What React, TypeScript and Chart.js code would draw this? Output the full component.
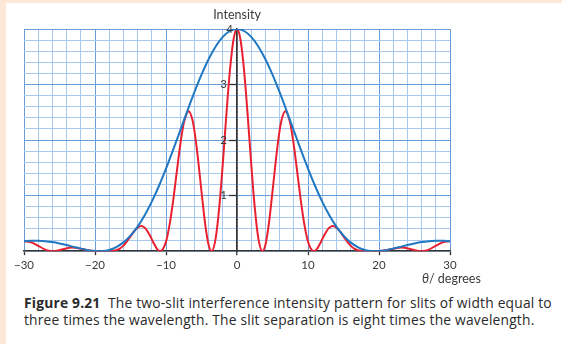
import React, { useEffect, useRef } from "react";
import { Chart, registerables } from "chart.js";

Chart.register(...registerables);

// θ (degrees) and intensity – two-slit pattern (red)
const redTheta = [
  -30, -29, -28, -27, -26.5, -25.94, -25.2, -24.5, -23.2, -22, -21, -20.5, -19.47, -18.21, -17.5,
  -16.5, -16, -15.5, -15, -14.5, -14, -13.5, -13, -12.8, -12.3, -11.8, -11.3, -10.81, -10, -9.5,
  -9, -8.5, -8, -7.5, -6.8, -6.3, -6, -5.5, -5, -4.5, -4, -3.58, -3, -2.5, -2, -1.5, -1, -0.5,
  0,
  0.5, 1, 1.5, 2, 2.5, 3, 3.58, 4, 4.5, 5, 5.5, 6, 6.3, 6.8, 7.5, 8, 8.5, 9, 9.5, 10, 10.81,
  11.3, 11.8, 12.3, 12.8, 13, 13.5, 14, 14.5, 15, 15.5, 16, 16.5, 17.5, 18.21, 19.47, 20.5, 21,
  22, 23.2, 24.5, 25.2, 25.94, 26.5, 27, 28, 29, 30,
];
const redIntensity = [
  0.18, 0.162, 0.097, 0.029, 0.008, 0, 0.012, 0.037, 0.067, 0.046, 0.016, 0.006, 0, 0, 0.004,
  0.048, 0.101, 0.177, 0.267, 0.358, 0.425, 0.452, 0.423, 0.395, 0.291, 0.162, 0.048, 0, 0.173, 0.473,
  0.903, 1.41, 1.908, 2.303, 2.521, 2.375, 2.169, 1.671, 1.073, 0.506, 0.114, 0, 0.235, 0.789, 1.577, 2.454, 3.249, 3.802,
  4.0,
  3.802, 3.249, 2.454, 1.577, 0.789, 0.235, 0, 0.114, 0.506, 1.073, 1.671, 2.169, 2.375, 2.521, 2.303, 1.908, 1.41, 0.903, 0.473, 0.173, 0,
  0.048, 0.162, 0.291, 0.395, 0.423, 0.452, 0.425, 0.358, 0.267, 0.177, 0.101, 0.048, 0.004, 0, 0, 0.006, 0.016,
  0.046, 0.067, 0.037, 0.012, 0, 0.008, 0.029, 0.097, 0.162, 0.18,
];

// single-slit envelope (blue)
const blueTheta = [
  -30, -29, -28, -27, -26, -25, -24, -23, -22, -21, -20.5, -19.47, -19, -18, -17, -16, -15, -14, -13,
  -12, -11, -10, -9, -8, -7, -6, -5, -4, -3, -2, -1,
  0,
  1, 2, 3, 4, 5, 6, 7, 8, 9, 10, 11, 12, 13, 14, 15, 16, 17, 18, 19, 19.47, 20.5, 21, 22, 23, 24, 25,
  26, 27, 28, 29, 30,
];
const blueIntensity = [
  0.18, 0.188, 0.188, 0.18, 0.164, 0.14, 0.111, 0.078, 0.046, 0.019, 0.009, 0, 0.002, 0.024, 0.075, 0.159, 0.281, 0.443, 0.647,
  0.892, 1.174, 1.487, 1.823, 2.172, 2.523, 2.862, 3.178, 3.456, 3.686, 3.858, 3.964,
  4.0,
  3.964, 3.858, 3.686, 3.456, 3.178, 2.862, 2.523, 2.172, 1.823, 1.487, 1.174, 0.892, 0.647, 0.443, 0.281, 0.159, 0.075, 0.024, 0.002, 0, 0.009, 0.019, 0.046, 0.078, 0.111, 0.14,
  0.164, 0.18, 0.188, 0.188, 0.18,
];

const xTickValues = [-30, -20, -10, 0, 10, 20, 30];
const xTickLabels = ["\u221230", "\u221220", "\u221210", "0", "10", "20", "30"];
const yTickValues = [1, 2, 3, 4];
const yTickLabels = ["1", "2", "3", "4"];

const FONT = "Lato, 'Open Sans', sans-serif";
const CAPTION_FONT = "'Open Sans', 'Noto Sans', sans-serif";
const TEXT = "#3a3a3a";
const GRID_MINOR = "#a9c8ee";
const GRID_MAJOR = "#6a9dd8";
const AXIS = "#333333";

const findIdx = (arr: number[], v: number) => arr.findIndex((a) => Math.abs(a - v) < 1e-6);

// y-axis labels sit just left of the central axis
const yLabelPlugin = {
  id: "yLabelsLeft",
  afterDraw(chart: any) {
    const xs = chart.scales.x;
    const ys = chart.scales.y;
    const ctx = chart.ctx;
    const x0 = xs.getPixelForValue(0);
    ctx.save();
    ctx.font = `11.5px ${FONT}`;
    ctx.fillStyle = TEXT;
    ctx.textAlign = "right";
    ctx.textBaseline = "middle";
    yTickValues.forEach((v, i) => {
      const off = v >= 4 ? 4 : 10;
      ctx.fillText(yTickLabels[i], x0 - off, ys.getPixelForValue(v));
    });
    ctx.restore();
  },
};

export default function App() {
  const canvasRef = useRef<HTMLCanvasElement | null>(null);

  useEffect(() => {
    if (!canvasRef.current) return;
    const chart = new Chart(canvasRef.current, {
      type: "line",
      data: {
        datasets: [
          {
            label: "envelope",
            data: blueTheta.map((t, i) => ({ x: t, y: blueIntensity[i] })),
            borderColor: "#1f78c1",
            borderWidth: 2,
            pointRadius: 0,
            cubicInterpolationMode: "monotone",
            order: 0,
          },
          {
            label: "two-slit",
            data: redTheta.map((t, i) => ({ x: t, y: redIntensity[i] })),
            borderColor: "#e8202f",
            borderWidth: 2,
            pointRadius: 0,
            cubicInterpolationMode: "monotone",
            order: 1,
          },
        ],
      },
      plugins: [yLabelPlugin],
      options: {
        animation: false,
        responsive: false,
        layout: { padding: { left: 24, right: 112, top: 29, bottom: 15 } },
        plugins: { legend: { display: false }, tooltip: { enabled: false } },
        scales: {
          x: {
            type: "linear",
            position: "bottom",
            min: -30,
            max: 30,
            ticks: {
              stepSize: 2,
              autoSkip: false,
              maxRotation: 0,
              padding: 3,
              color: TEXT,
              font: { family: FONT, size: 11.5 },
              callback: (v: any) => {
                const i = findIdx(xTickValues, Number(v));
                return i >= 0 ? xTickLabels[i] : "";
              },
            },
            grid: {
              color: (ctx: any) => {
                const v = ctx.tick ? ctx.tick.value : 1;
                if (Math.abs(v) < 1e-6) return AXIS;
                return findIdx(xTickValues, v) >= 0 ? GRID_MAJOR : GRID_MINOR;
              },
              lineWidth: (ctx: any) => {
                const v = ctx.tick ? ctx.tick.value : 1;
                if (Math.abs(v) < 1e-6) return 1.5;
                return 1;
              },
              tickLength: 4,
              tickColor: (ctx: any) => {
                const v = ctx.tick ? ctx.tick.value : 1;
                return findIdx(xTickValues, v) >= 0 ? AXIS : "rgba(0,0,0,0)";
              },
              tickWidth: 1.3,
            },
            border: { color: AXIS, width: 1.5 },
          },
          y: {
            type: "linear",
            position: { x: 0 } as any,
            min: 0,
            max: 4,
            ticks: {
              stepSize: 0.2,
              autoSkip: false,
              padding: 0,
              font: { family: FONT, size: 11.5 },
              callback: () => "",
            },
            grid: {
              color: (ctx: any) => {
                const v = ctx.tick ? ctx.tick.value : 1;
                return findIdx(yTickValues, v) >= 0 ? GRID_MAJOR : GRID_MINOR;
              },
              lineWidth: 1,
              tickLength: 7,
              tickColor: (ctx: any) => {
                const v = ctx.tick ? ctx.tick.value : 0;
                return findIdx(yTickValues, v) >= 0 && v < 3.99 ? AXIS : "rgba(0,0,0,0)";
              },
              tickWidth: 1.3,
            },
            border: { color: AXIS, width: 1.5 },
          },
        },
      },
    });
    return () => chart.destroy();
  }, []);

  return (
    <div style={{ position: "absolute", left: 0, top: 0, width: 562, height: 344, background: "#fde7d6", overflow: "hidden" }}>
      <div style={{ position: "absolute", left: 6, top: 3, right: 0, bottom: 0, background: "#ffffff" }} />
      <canvas ref={canvasRef} width={562} height={290} style={{ position: "absolute", left: 0, top: 0, width: 562, height: 290 }} />
      <div
        style={{
          position: "absolute",
          left: 187,
          width: 100,
          top: 7,
          textAlign: "center",
          fontFamily: FONT,
          fontSize: 12.5,
          color: TEXT,
        }}
      >
        Intensity
      </div>
      <div
        style={{
          position: "absolute",
          left: 422,
          top: 271,
          fontFamily: FONT,
          fontSize: 12.5,
          color: TEXT,
          whiteSpace: "nowrap",
        }}
      >
        <i>θ</i>/ degrees
      </div>
      <div
        style={{
          position: "absolute",
          left: 24,
          top: 294,
          fontFamily: CAPTION_FONT,
          fontSize: 13.8,
          lineHeight: "17px",
          letterSpacing: "0.2px",
          color: "#2a2a2a",
          whiteSpace: "nowrap",
        }}
      >
        <b>Figure 9.21</b>&nbsp; The two-slit interference intensity pattern for slits of width equal to
        <br />
        three times the wavelength. The slit separation is eight times the wavelength.
      </div>
    </div>
  );
}
